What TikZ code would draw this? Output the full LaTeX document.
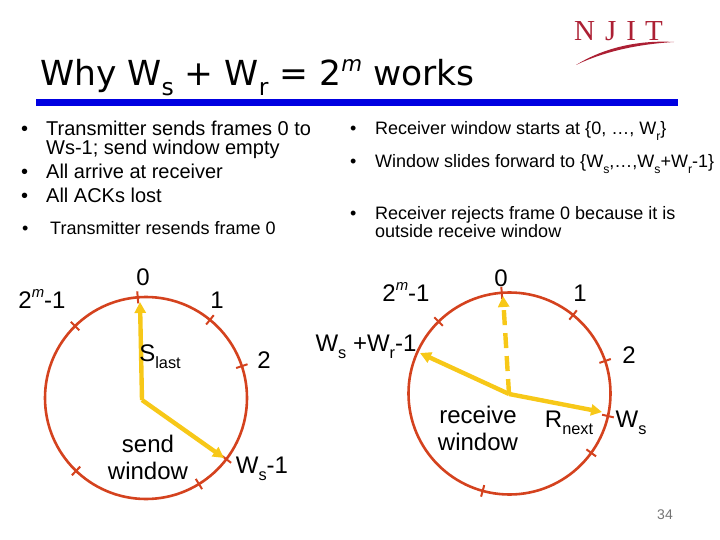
\documentclass[tikz,border=0pt]{standalone}
\usepackage{fontspec}
\setmainfont{Liberation Sans}
\newfontfamily\titlefont{DejaVu Sans}
\newfontfamily\logofont{Liberation Serif}
\usetikzlibrary{arrows.meta,positioning,calc}
\definecolor{ringcolor}{RGB}{212,66,30}
\definecolor{handcolor}{RGB}{247,200,24}
\definecolor{barcolor}{RGB}{0,0,225}
\definecolor{logocolor}{RGB}{172,32,52}
\newcommand{\lsub}[1]{\raisebox{-0.28em}{\scalebox{0.68}{#1}}}
\newcommand{\lsup}[1]{\raisebox{0.42em}{\scalebox{0.62}{\itshape #1}}}
\tikzset{
  ring/.style={draw=ringcolor, line width=2.6pt},
  ringtick/.style={draw=ringcolor, line width=2pt},
  hand/.style={draw=handcolor, line width=4.4pt, -{Triangle[length=11pt,width=11pt]}},
  bigitem/.style={anchor=base west, inner sep=0pt, font=\fontsize{20}{20}\selectfont},
  smallitem/.style={anchor=base west, inner sep=0pt, font=\fontsize{18}{18}\selectfont},
  ringlabel/.style={inner sep=0pt, font=\fontsize{24}{24}\selectfont, align=center},
}
\begin{document}
\begin{tikzpicture}[x=1pt, y=-1pt]
    \useasboundingbox (0,0) rectangle (720,540);
    % title and bar
    \node[anchor=base west, inner sep=0pt, font=\titlefont\fontsize{34.5}{34.5}\selectfont] (title) at (40,86) {Why W\lsub{s} + W\lsub{r} = 2\lsup{m} works};
    \fill[barcolor] (36,99) rectangle (678,106);
    % logo
    \node[anchor=base west, inner sep=0pt, text=logocolor, font=\logofont\fontsize{29}{29}\selectfont] (logo) at (574,41) {N\hspace{10pt}J\hspace{10pt}I\hspace{9pt}T};
    \fill[logocolor] (576,65) .. controls (605,47) and (640,40) .. (674,42) .. controls (640,44) and (605,51) .. (576,65) -- cycle;
    % left text
    \node[bigitem] (ltbul) at (21,136) {•};
    \node[bigitem] (lta) at (46,136) {Transmitter sends frames 0 to};
    \node[bigitem] (ltb) at (46,155) {Ws-1; send window empty};
    \node[bigitem] (lcbul) at (21,179) {•};
    \node[bigitem] (lc) at (46,179) {All arrive at receiver};
    \node[bigitem] (ldbul) at (21,203) {•};
    \node[bigitem] (ld) at (46,203) {All ACKs lost};
    \node[smallitem] (lebul) at (22,234) {•};
    \node[smallitem] (le) at (50,234) {Transmitter resends frame 0};
    % right text
    \node[smallitem] (rabul) at (350,135) {•};
    \node[smallitem] (ra) at (375,135) {Receiver window starts at \{0, …, W\lsub{r}\}};
    \node[smallitem] (rbbul) at (350,168) {•};
    \node[smallitem] (rb) at (375,168) {Window slides forward to \{W\lsub{s},…,W\lsub{s}+W\lsub{r}-1\}};
    \node[smallitem] (rcbul) at (350,220) {•};
    \node[smallitem] (rc) at (375,220) {Receiver rejects frame 0 because it is};
    \node[smallitem] (rd) at (375,237) {outside receive window};
    % sender ring
    \coordinate (sendc) at (146,398);
    \draw[ring] (sendc) circle (101pt);
    \foreach \a in {-94.7,-50.7,-18.4,37.3,58.4,133.8,225.4} {
      \draw[ringtick] ($(sendc)+(\a:95)$) -- ($(sendc)+(\a:107)$);
    }
    \coordinate (sendhub) at (142,400);
    \coordinate (slast) at (140,302);
    \coordinate (sendend) at (224,458);
    \draw[hand] (sendhub) -- (slast);
    \draw[hand] (sendhub) -- (sendend);
    \node[ringlabel] (szero) at (143,277) {0};
    \node[ringlabel] (sone) at (217,300) {1};
    \node[ringlabel] (stwo) at (264,360) {2};
    \node[ringlabel] (slabm) at (42,299) {2\lsup{m}-1};
    \node[ringlabel] (slabl) at (160,357) {S\lsub{last}};
    \node[ringlabel] (swin) at (148,457) {send\\[3pt]window};
    \node[ringlabel] (sws) at (262,469) {W\lsub{s}-1};
    % receiver ring
    \coordinate (recvc) at (509.5,393.5);
    \draw[ring] (recvc) circle (101pt);
    \foreach \a in {-94.4,-51,-18.8,12.9,36,105.4,225.4} {
      \draw[ringtick] ($(recvc)+(\a:95)$) -- ($(recvc)+(\a:107)$);
    }
    \coordinate (recvhub) at (509,394);
    \coordinate (rzero) at (503,296);
    \coordinate (rfar) at (420,353);
    \coordinate (rnext) at (602,412);
    \draw[hand, dash pattern=on 15pt off 8pt] (recvhub) -- (rzero);
    \draw[hand] (recvhub) -- (rfar);
    \draw[hand] (recvhub) -- (rnext);
    \node[ringlabel] (rlabz) at (501,278) {0};
    \node[ringlabel] (rlabo) at (580,293) {1};
    \node[ringlabel] (rlabt) at (629,355) {2};
    \node[ringlabel] (rlabm) at (406,292) {2\lsup{m}-1};
    \node[ringlabel] (rlabw) at (366,347) {W\lsub{s} +W\lsub{r}-1};
    \node[ringlabel] (rwin) at (478,428) {receive\\[3pt]window};
    \node[ringlabel] (rlabn) at (569,423) {R\lsub{next}};
    \node[ringlabel] (rlabs) at (631,423) {W\lsub{s}};
    \node[inner sep=0pt, text=black!55, font=\fontsize{14}{14}\selectfont] (pagenum) at (665,515) {34};
\end{tikzpicture}
\end{document}
